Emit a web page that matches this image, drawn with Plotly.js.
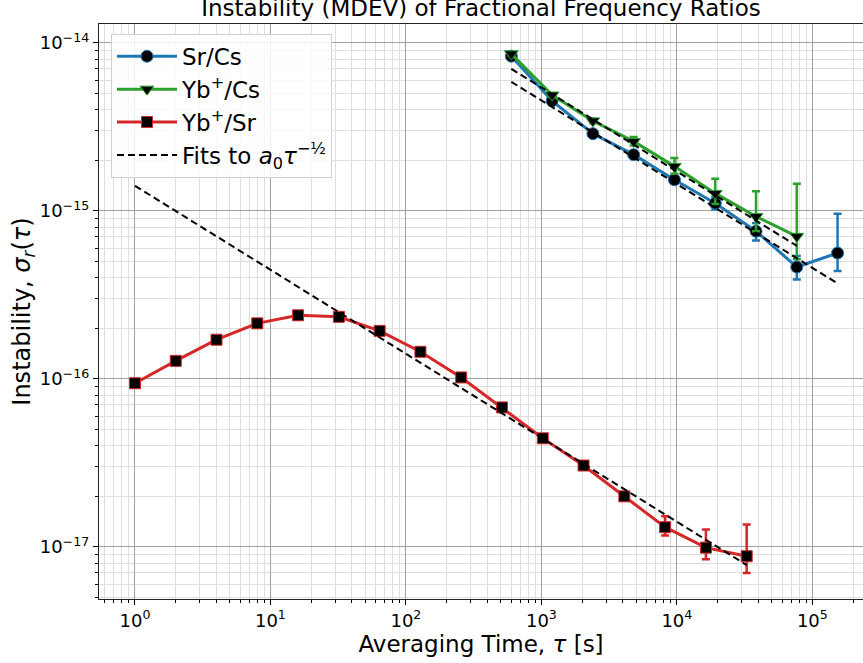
<!DOCTYPE html>
<html>
<head>
<meta charset="utf-8">
<script src="https://cdn.plot.ly/plotly-3.0.1.min.js"></script>
<style>html,body{margin:0;padding:0;background:#fff;}#chart{width:863px;height:663px;}</style>
</head>
<body>
<div id="chart"></div>
<script>
// Sr/Cs
const tauSrCs = [600, 1200, 2400, 4800, 9600, 19200, 38400, 76800, 153600];
const srCs = [8.33e-15, 4.51e-15, 2.88e-15, 2.16e-15, 1.53e-15, 1.11e-15, 7.57e-16, 4.63e-16, 5.61e-16];
const srCsErrUp = [3.0e-16, 1.5e-16, 1.0e-16, 0.8e-16, 0.8e-16, 1.0e-16, 0.9e-16, 0.75e-16, 4.0e-16];
const srCsErrDn = [3.0e-16, 1.5e-16, 1.0e-16, 0.8e-16, 0.8e-16, 0.9e-16, 0.9e-16, 0.73e-16, 1.23e-16];

// Yb+/Cs
const tauYbCs = [600, 1200, 2400, 4800, 9600, 19200, 38400, 76800];
const ybCs = [8.6e-15, 4.89e-15, 3.43e-15, 2.59e-15, 1.84e-15, 1.27e-15, 9.25e-16, 7.05e-16];
const ybCsErrUp = [2.0e-16, 1.2e-16, 1.0e-16, 1.6e-16, 2.2e-16, 2.8e-16, 3.85e-16, 7.45e-16];
const ybCsErrDn = [2.0e-16, 1.2e-16, 1.0e-16, 1.4e-16, 1.8e-16, 1.7e-16, 1.7e-16, 1.9e-16];

// Yb+/Sr
const tauYbSr = [1, 2, 4, 8, 16, 32, 64, 128, 256, 512, 1024, 2048, 4096, 8192, 16384, 32768];
const ybSr = [9.42e-17, 1.28e-16, 1.71e-16, 2.14e-16, 2.39e-16, 2.34e-16, 1.93e-16, 1.45e-16, 1.02e-16,
              6.76e-17, 4.43e-17, 3.05e-17, 2.00e-17, 1.31e-17, 9.9e-18, 8.8e-18];
const ybSrErrUp = [1.5e-18, 2e-18, 2.5e-18, 3e-18, 3e-18, 3e-18, 3e-18, 2.5e-18, 2e-18,
                   1.5e-18, 1.2e-18, 1.0e-18, 1.0e-18, 2.1e-18, 2.8e-18, 4.8e-18];
const ybSrErrDn = [1.5e-18, 2e-18, 2.5e-18, 3e-18, 3e-18, 3e-18, 3e-18, 2.5e-18, 2e-18,
                   1.5e-18, 1.2e-18, 1.0e-18, 1.0e-18, 1.4e-18, 1.45e-18, 1.8e-18];

// Fit lines a0*tau^(-1/2): endpoints
const fitSrCsX = [600, 153600];
const fitSrCsY = [5.86e-15, 3.7e-16];
const fitYbCsX = [600, 76800];
const fitYbCsY = [7.0e-15, 6.19e-16];
const fitYbSrX = [1, 32768];
const fitYbSrY = [1.41e-15, 7.8e-18];

// Tick labels
const xTickVals = [1, 10, 100, 1000, 10000, 100000];
const xTickText = ['10<sup>0</sup>', '10<sup>1</sup>', '10<sup>2</sup>', '10<sup>3</sup>', '10<sup>4</sup>', '10<sup>5</sup>'];
const yTickVals = [1e-17, 1e-16, 1e-15, 1e-14];
const yTickText = ['10<sup>\u221217</sup>', '10<sup>\u221216</sup>', '10<sup>\u221215</sup>', '10<sup>\u221214</sup>'];

const names = ['Sr/Cs', 'Yb<sup>+</sup>/Cs', 'Yb<sup>+</sup>/Sr', 'Fits to <i>a</i><sub>0</sub><i>\u03c4</i><sup>\u2212\u00bd</sup>'];
const colors = ['#1f77b4', '#2ca02c', '#d62728'];

function series(x, y, up, dn, name, color, symbol, size) {
  return {
    x: x, y: y, name: name, type: 'scatter', mode: 'lines+markers',
    line: {color: color, width: 3},
    marker: {symbol: symbol, size: size, color: '#000', line: {color: color, width: 1}},
    error_y: {type: 'data', symmetric: false, array: up, arrayminus: dn,
              color: color, thickness: 2.5, width: 4}
  };
}
function fit(x, y, show) {
  return {x: x, y: y, name: names[3], type: 'scatter', mode: 'lines', legendgroup: 'fit',
          showlegend: show, line: {color: '#000', width: 2, dash: '7px,4px'}};
}

const data = [
  series(tauSrCs, srCs, srCsErrUp, srCsErrDn, names[0], colors[0], 'circle', 12),
  series(tauYbCs, ybCs, ybCsErrUp, ybCsErrDn, names[1], colors[1], 'triangle-down', 12),
  series(tauYbSr, ybSr, ybSrErrUp, ybSrErrDn, names[2], colors[2], 'square', 11),
  fit(fitSrCsX, fitSrCsY, true),
  fit(fitYbCsX, fitYbCsY, false),
  fit(fitYbSrX, fitYbSrY, false)
];

const layout = {
  width: 863, height: 663,
  margin: {l: 99, r: 0, t: 24, b: 64},
  paper_bgcolor: '#fff', plot_bgcolor: '#fff',
  font: {family: 'DejaVu Sans, sans-serif', size: 18, color: '#000'},
  title: {text: 'Instability (MDEV) of Fractional Frequency Ratios',
          font: {family: 'DejaVu Sans, sans-serif', size: 23, color: '#000'},
          x: 0.5, xref: 'paper', y: 1 - 8 / 663, yref: 'container', yanchor: 'middle'},
  xaxis: {
    type: 'log', range: [-0.2654, 5.374],
    tickmode: 'array', tickvals: xTickVals, ticktext: xTickText,
    ticks: 'outside', ticklen: 5, tickwidth: 1, tickcolor: '#000',
    showgrid: true, gridcolor: '#a0a0a0', gridwidth: 1,
    showline: true, linecolor: '#222', linewidth: 1.2, mirror: true,
    zeroline: false,
    minor: {dtick: 'D1', showgrid: true, gridcolor: '#dedede', gridwidth: 1,
            ticks: 'outside', ticklen: 3, tickcolor: '#000'},
    tickfont: {family: 'DejaVu Sans, sans-serif', size: 18, color: '#000'},
    title: {text: 'Averaging Time, <i>\u03c4</i> [s]', standoff: 6,
            font: {family: 'DejaVu Sans, sans-serif', size: 23, color: '#000'}}
  },
  yaxis: {
    type: 'log', range: [-17.31, -13.888],
    tickmode: 'array', tickvals: yTickVals, ticktext: yTickText,
    ticks: 'outside', ticklen: 5, tickwidth: 1, tickcolor: '#000',
    showgrid: true, gridcolor: '#a0a0a0', gridwidth: 1,
    showline: true, linecolor: '#222', linewidth: 1.2, mirror: false,
    zeroline: false,
    minor: {dtick: 'D1', showgrid: true, gridcolor: '#dedede', gridwidth: 1,
            ticks: 'outside', ticklen: 3, tickcolor: '#000'},
    tickfont: {family: 'DejaVu Sans, sans-serif', size: 18, color: '#000'},
    title: {text: 'Instability, <i>\u03c3<sub>r</sub></i>(<i>\u03c4</i>)', standoff: 2,
            font: {family: 'DejaVu Sans, sans-serif', size: 24, color: '#000'}}
  },
  legend: {
    x: 0.0157, y: 0.983, xanchor: 'left', yanchor: 'top',
    bgcolor: 'rgba(255,255,255,0.85)', bordercolor: '#d0d0d0', borderwidth: 1,
    font: {family: 'DejaVu Sans, sans-serif', size: 23, color: '#000'},
    itemwidth: 60, tracegroupgap: 0
  },
  showlegend: true
};

Plotly.newPlot('chart', data, layout, {displayModeBar: false, staticPlot: true});
</script>
</body>
</html>
